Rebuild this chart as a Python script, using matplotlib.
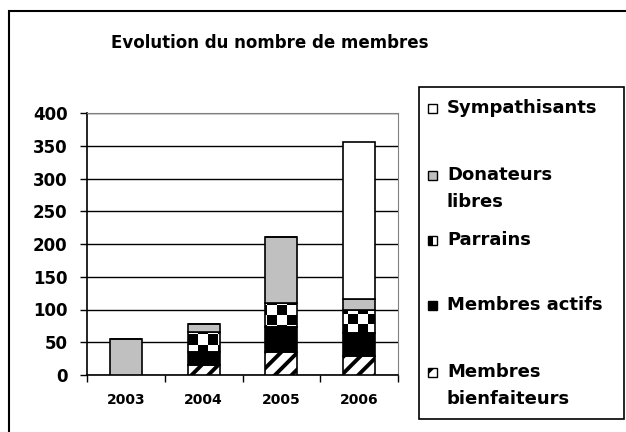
import numpy as np
import matplotlib.pyplot as plt
from matplotlib.patches import Rectangle

annees = ['2003', '2004', '2005', '2006']
bienfaiteurs = [0, 15, 35, 29]
actifs = [0, 20, 39, 35]
parrains = [0, 30, 36, 35]
donateurs = [55, 13, 101, 17]
sympathisants = [0, 0, 0, 239]
noms = ['Membres\nbienfaiteurs', 'Membres actifs', 'Parrains', 'Donateurs\nlibres', 'Sympathisants']

plt.rcParams['font.family'] = 'DejaVu Sans'
plt.rcParams['font.weight'] = 'bold'
plt.rcParams['hatch.linewidth'] = 2.8

W, H = 626, 432
fig = plt.figure(figsize=(W / 100, H / 100), dpi=100)
ax = fig.add_axes([87 / W, 57 / H, 311 / W, 262 / H])

x = np.arange(len(annees))
w = 0.41
series = [bienfaiteurs, actifs, parrains, donateurs, sympathisants]
styles = [
    dict(facecolor='white', hatch='//'),
    dict(facecolor='black'),
    dict(facecolor='none'),
    dict(facecolor='#c0c0c0'),
    dict(facecolor='white'),
]

# damier pour les parrains (cases d'environ 10 px)
damier = np.add.outer(np.arange(26), np.arange(31)) % 2

bas = np.zeros(len(annees))
for vals, st, nom in zip(series, styles, noms):
    barres = ax.bar(x, vals, w, bottom=bas, edgecolor='black', linewidth=1.2,
                    zorder=3, **st)
    if nom == 'Parrains':
        for b in barres:
            im = ax.imshow(damier, extent=(-0.5, 3.5, 0, 400), cmap='gray',
                           interpolation='nearest', aspect='auto', zorder=2.5)
            im.set_clip_path(b)
    bas += np.array(vals)

ax.set_xlim(-0.5, 3.5)
ax.set_ylim(0, 400)
ax.set_yticks(range(0, 401, 50))
ax.tick_params(axis='y', labelsize=12, length=5, width=1, pad=9)
ax.set_xticks(np.arange(-0.5, 4, 1))
ax.set_xticklabels([])
ax.set_xticks(x, minor=True)
ax.set_xticklabels(annees, minor=True)
ax.tick_params(axis='x', which='major', length=5, width=1)
ax.tick_params(axis='x', which='minor', length=0, labelsize=10, pad=13)
ax.yaxis.grid(True, color='black', linewidth=1)
ax.set_axisbelow(True)
for s in ['top', 'right']:
    ax.spines[s].set_color('#808080')
for s in ['left', 'bottom']:
    ax.spines[s].set_linewidth(1.2)

fig.text(270 / W, 1 - 43 / H, 'Evolution du nombre de membres', ha='center',
         va='center', fontsize=12)

# cadre général
fig.add_artist(Rectangle((9 / W, -0.1), 1.2, 1 - 11 / H + 0.1, transform=fig.transFigure,
                         fill=False, edgecolor='black', linewidth=1.5))

# légende
fig.add_artist(Rectangle((419 / W, 1 - 419 / H), 205 / W, 332 / H, transform=fig.transFigure,
                         fill=False, edgecolor='black', linewidth=1.2))
pos_y = [372, 305, 240, 175, 108]
for nom, st, py in zip(noms, styles, pos_y):
    fc = st['facecolor'] if st['facecolor'] != 'none' else 'white'
    fig.add_artist(Rectangle((428 / W, 1 - (py + 4.5) / H), 9 / W, 9 / H,
                             transform=fig.transFigure, facecolor=fc,
                             hatch=st.get('hatch'), edgecolor='black', linewidth=1))
    if nom == 'Parrains':
        fig.add_artist(Rectangle((428 / W, 1 - (py + 4.5) / H), 5 / W, 9 / H,
                                 transform=fig.transFigure, facecolor='black',
                                 edgecolor='none'))
    for i, ligne in enumerate(nom.split('\n')):
        fig.text(447 / W, 1 - (py + i * 27) / H, ligne, ha='left', va='center',
                 fontsize=13)

fig.savefig('out.png', dpi=100)
